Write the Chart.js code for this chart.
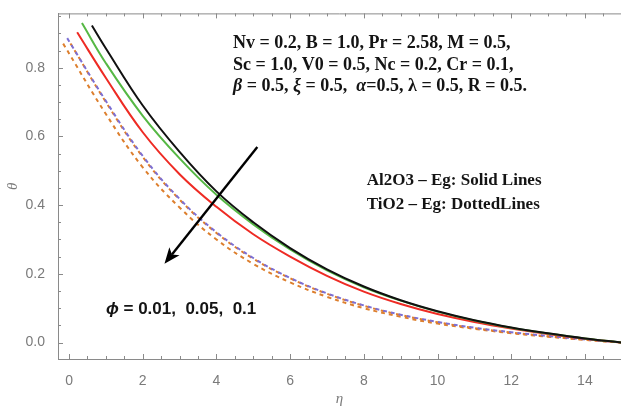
<!DOCTYPE html>
<html>
<head>
<meta charset="utf-8">
<script src="https://cdn.jsdelivr.net/npm/chart.js@4.4.1/dist/chart.umd.min.js"></script>
<style>
    html, body { margin: 0; padding: 0; background: #fff; }
    canvas { display: block; }
</style>
</head>
<body>
<canvas id="thetaChart" width="621" height="412"></canvas>
<script>
(function () {
    'use strict';

    // tick labels
    var xTicks = [0, 2, 4, 6, 8, 10, 12, 14];
    var yTicks = [0.0, 0.2, 0.4, 0.6, 0.8];

    // Al2O3 - Eg (solid)
    var etaBlack = [0.62, 1, 2, 3, 4, 5, 6, 7, 8, 9, 10, 11, 12, 13, 14, 15];
    var thetaBlack = [0.923, 0.856, 0.69, 0.555, 0.44, 0.35, 0.275, 0.213, 0.163, 0.123, 0.091, 0.065, 0.044, 0.027, 0.012, 0];
    var etaGreen = [0.35, 1, 2, 3, 4, 5, 6, 7, 8, 9, 10, 11, 12, 13, 14, 15];
    var thetaGreen = [0.93, 0.813, 0.66, 0.536, 0.43, 0.344, 0.271, 0.21, 0.161, 0.122, 0.09, 0.064, 0.043, 0.026, 0.012, 0];
    var etaRed = [0.22, 1, 2, 3, 4, 5, 6, 7, 8, 9, 10, 11, 12, 13, 14, 15];
    var thetaRed = [0.903, 0.77, 0.612, 0.49, 0.395, 0.315, 0.25, 0.194, 0.148, 0.112, 0.083, 0.06, 0.041, 0.025, 0.011, 0];

    // TiO2 - Eg (dashed)
    var etaPurple = [-0.05, 1, 2, 3, 4, 5, 6, 7, 8, 9, 10, 11, 12, 13, 14, 15];
    var thetaPurple = [0.886, 0.703, 0.543, 0.418, 0.321, 0.246, 0.188, 0.143, 0.108, 0.081, 0.06, 0.043, 0.03, 0.019, 0.009, 0];
    var etaOrangeA = [-0.02, 1, 2, 3, 4, 5, 6, 7, 8, 9, 10, 11, 12, 13, 14, 15];
    var thetaOrangeA = [0.881, 0.7, 0.54, 0.416, 0.319, 0.244, 0.187, 0.142, 0.107, 0.08, 0.059, 0.042, 0.029, 0.018, 0.008, 0];
    var etaOrangeB = [-0.16, 1, 2, 3, 4, 5, 6, 7, 8, 9, 10, 11, 12, 13, 14, 15];
    var thetaOrangeB = [0.87, 0.665, 0.51, 0.393, 0.3, 0.229, 0.175, 0.133, 0.1, 0.075, 0.055, 0.04, 0.027, 0.017, 0.008, 0];

    // arrow (data coords)
    var arrowFrom = [5.11, 0.569];
    var arrowTo = [2.59, 0.229];

    var toPoints = function (xs, ys) {
        return xs.map(function (x, i) { return { x: x, y: ys[i] }; });
    };

    var line = function (label, xs, ys, color, dash, dashOffset) {
        return {
            label: label,
            data: toPoints(xs, ys),
            borderColor: color,
            backgroundColor: color,
            borderWidth: 2,
            borderDash: dash || [],
            borderDashOffset: dashOffset || 0,
            showLine: true,
            pointRadius: 0,
            tension: 0.4,
            fill: false
        };
    };

    var axisGray = '#8a8a8a';
    var labelGray = '#7a7a7a';

    // inward ticks + top frame, Mathematica style
    var frameTicks = {
        id: 'frameTicks',
        afterDraw: function (chart) {
            var ctx = chart.ctx, a = chart.chartArea;
            var xs = chart.scales.x, ys = chart.scales.y;
            ctx.save();
            ctx.strokeStyle = axisGray;
            ctx.lineWidth = 1;
            ctx.beginPath();
            ctx.moveTo(a.left, a.top + 0.5);
            ctx.lineTo(a.right, a.top + 0.5);
            var v, px, len, major;
            for (v = 0; v <= 15.001; v += 0.5) {
                px = Math.round(xs.getPixelForValue(v)) + 0.5;
                major = Math.abs(v / 2 - Math.round(v / 2)) < 1e-6;
                len = major ? 5 : 3;
                ctx.moveTo(px, a.bottom); ctx.lineTo(px, a.bottom - len);
                ctx.moveTo(px, a.top); ctx.lineTo(px, a.top + len);
            }
            for (v = 0; v <= 0.951; v += 0.05) {
                px = Math.round(ys.getPixelForValue(v)) + 0.5;
                major = Math.abs(v / 0.2 - Math.round(v / 0.2)) < 1e-6;
                len = major ? 5 : 3;
                ctx.moveTo(a.left, px); ctx.lineTo(a.left + len, px);
            }
            ctx.stroke();
            ctx.restore();
        }
    };

    var drawSegments = function (ctx, x, y, parts, size) {
        parts.forEach(function (p) {
            ctx.font = (p[1] ? 'italic ' : '') + 'bold ' + size + 'px "Liberation Serif", serif';
            ctx.fillText(p[0], x, y);
            x += ctx.measureText(p[0]).width;
        });
    };

    var annotations = {
        id: 'annotations',
        afterDatasetsDraw: function (chart) {
            var ctx = chart.ctx;
            var xs = chart.scales.x, ys = chart.scales.y;
            var X = function (v) { return xs.getPixelForValue(v); };
            var Y = function (v) { return ys.getPixelForValue(v); };
            ctx.save();

            // arrow
            var x1 = X(arrowFrom[0]), y1 = Y(arrowFrom[1]);
            var x2 = X(arrowTo[0]), y2 = Y(arrowTo[1]);
            var ang = Math.atan2(y2 - y1, x2 - x1);
            var hl = 16, hw = 6.5;
            var bx = x2 - hl * Math.cos(ang), by = y2 - hl * Math.sin(ang);
            ctx.strokeStyle = '#000';
            ctx.fillStyle = '#000';
            ctx.lineWidth = 2.4;
            ctx.beginPath();
            ctx.moveTo(x1, y1);
            ctx.lineTo(bx + 4 * Math.cos(ang), by + 4 * Math.sin(ang));
            ctx.stroke();
            ctx.beginPath();
            ctx.moveTo(x2, y2);
            ctx.lineTo(bx + hw * Math.sin(ang), by - hw * Math.cos(ang));
            ctx.lineTo(bx + 4 * Math.cos(ang), by + 4 * Math.sin(ang));
            ctx.lineTo(bx - hw * Math.sin(ang), by + hw * Math.cos(ang));
            ctx.closePath();
            ctx.fill();

            // parameter block
            ctx.fillStyle = '#141414';
            ctx.textBaseline = 'middle';
            ctx.textAlign = 'left';
            var tx = X(4.45);
            drawSegments(ctx, tx, Y(0.871), [['Nv = 0.2, B = 1.0, Pr = 2.58, M = 0.5,', false]], 18);
            drawSegments(ctx, tx, Y(0.808), [['Sc = 1.0, V0 = 0.5, Nc = 0.2, Cr = 0.1,', false]], 18);
            drawSegments(ctx, tx, Y(0.746), [
                ['\u03B2', true], [' = 0.5, ', false], ['\u03BE', true], [' = 0.5,  ', false],
                ['\u03B1', true], ['=0.5, \u03BB = 0.5, R = 0.5.', false]
            ], 18);

            // material legend
            drawSegments(ctx, X(8.08), Y(0.471), [['Al2O3 \u2013 Eg: Solid Lines', false]], 17);
            drawSegments(ctx, X(8.08), Y(0.40), [['TiO2 \u2013 Eg: DottedLines', false]], 17);

            // phi label
            var px = X(1.0), py = Y(0.097);
            ctx.font = 'italic bold 17px "Liberation Sans", Arial, sans-serif';
            ctx.fillText('\u03D5', px, py);
            px += ctx.measureText('\u03D5').width;
            ctx.font = 'bold 17px "Liberation Sans", Arial, sans-serif';
            ctx.fillText(' = 0.01,  0.05,  0.1', px, py);

            ctx.restore();
        }
    };

    new Chart(document.getElementById('thetaChart').getContext('2d'), {
        type: 'scatter',
        data: {
            datasets: [
                line('Al2O3 a', etaBlack, thetaBlack, '#111111'),
                line('Al2O3 b', etaGreen, thetaGreen, '#56b845'),
                line('Al2O3 c', etaRed, thetaRed, '#ee2b24'),
                line('TiO2 a', etaPurple, thetaPurple, '#7c6fd4', [4, 4], 0),
                line('TiO2 b', etaOrangeA, thetaOrangeA, '#e07d2c', [4, 4], 4),
                line('TiO2 c', etaOrangeB, thetaOrangeB, '#dd7f2e', [4, 4], 0)
            ]
        },
        options: {
            responsive: false,
            animation: false,
            layout: { padding: { top: 7, right: 0, left: 0, bottom: 0 } },
            plugins: {
                legend: { display: false },
                tooltip: { enabled: false }
            },
            scales: {
                x: {
                    type: 'linear',
                    min: -0.3,
                    max: 14.98,
                    afterFit: function (s) { s.height = 53; },
                    afterBuildTicks: function (s) {
                        s.ticks = xTicks.map(function (v) { return { value: v }; });
                    },
                    grid: { display: false },
                    border: { display: true, color: axisGray, width: 1 },
                    ticks: {
                        padding: 6,
                        color: labelGray,
                        font: { family: '"Liberation Sans", Arial, sans-serif', size: 14 },
                        callback: function (v) { return String(v); }
                    },
                    title: {
                        display: true,
                        text: '\u03B7',
                        color: labelGray,
                        font: { family: '"Liberation Serif", serif', size: 15, style: 'italic' }
                    }
                },
                y: {
                    type: 'linear',
                    min: -0.048,
                    max: 0.958,
                    afterFit: function (s) { s.width = 58; },
                    afterBuildTicks: function (s) {
                        s.ticks = yTicks.map(function (v) { return { value: v }; });
                    },
                    grid: { display: false },
                    border: { display: true, color: axisGray, width: 1 },
                    ticks: {
                        padding: 5,
                        color: labelGray,
                        font: { family: '"Liberation Sans", Arial, sans-serif', size: 14 },
                        callback: function (v) { return v.toFixed(1); }
                    },
                    title: {
                        display: true,
                        text: '\u03B8',
                        color: labelGray,
                        font: { family: '"Liberation Serif", serif', size: 15, style: 'italic' }
                    }
                }
            }
        },
        plugins: [frameTicks, annotations]
    });
})();
</script>
</body>
</html>
